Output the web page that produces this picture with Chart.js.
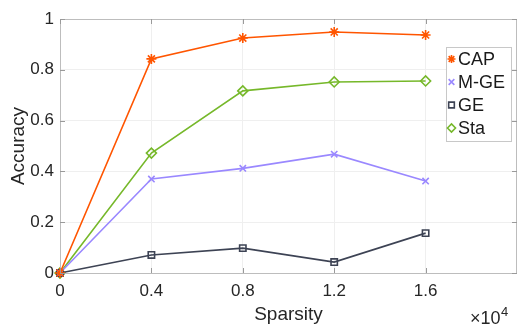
<!DOCTYPE html>
<html>
<head>
<meta charset="utf-8">
<script src="https://cdn.jsdelivr.net/npm/chart.js@4/dist/chart.umd.min.js"></script>
<style>
  html, body { margin: 0; padding: 0; background: #fff; }
  #wrap { width: 518px; height: 326px; position: relative; }
</style>
</head>
<body>
<div id="wrap"><canvas id="c" width="518" height="326"></canvas></div>
<script>
// Sparsity (in units of 1e4) and accuracy per method
const sparsity = [0, 0.4, 0.8, 1.2, 1.6];
const capAcc  = [0, 0.843, 0.925, 0.949, 0.937];
const mgeAcc  = [0, 0.370, 0.412, 0.468, 0.362];
const geAcc   = [0, 0.071, 0.098, 0.043, 0.157];
const staAcc  = [0, 0.472, 0.717, 0.752, 0.756];
const seriesNames = ['CAP', 'M-GE', 'GE', 'Sta'];
const xTicks = [0, 0.4, 0.8, 1.2, 1.6];
const yTicks = [0, 0.2, 0.4, 0.6, 0.8, 1];

const FONT = '"Liberation Sans", Arial, Helvetica, sans-serif';
const colors = ['#ff5500', '#9a88ff', '#3d4354', '#76b82a'];
const styles = ['star', 'crossRot', 'rect', 'rectRot'];
const radii = [5, 4.5, 4.5, 5];

const pts = ys => sparsity.map((x, i) => ({ x, y: ys[i] }));
const allY = [capAcc, mgeAcc, geAcc, staAcc];

const datasets = allY.map((ys, i) => ({
  label: seriesNames[i],
  data: pts(ys),
  borderColor: colors[i],
  backgroundColor: 'rgba(255,255,255,0)',
  pointBorderColor: colors[i],
  pointBackgroundColor: 'rgba(255,255,255,0)',
  pointStyle: styles[i],
  pointRadius: radii[i],
  pointBorderWidth: 1.6,
  borderWidth: 1.6,
  tension: 0,
  fill: false,
  clip: 8
}));

// Box, inward tick marks, exponent label, and an in-plot legend
const decor = {
  id: 'decor',
  afterDatasetsDraw(chart) {
    const { ctx, chartArea: a, scales } = chart;
    ctx.save();
    ctx.strokeStyle = '#bdbdbd';
    ctx.lineWidth = 1;
    ctx.strokeRect(a.left + 0.5, a.top + 0.5, a.right - a.left - 1, a.bottom - a.top);
    // inward ticks
    ctx.strokeStyle = '#9a9a9a';
    ctx.beginPath();
    xTicks.forEach(v => {
      const px = Math.round(scales.x.getPixelForValue(v)) + 0.5;
      ctx.moveTo(px, a.bottom); ctx.lineTo(px, a.bottom - 5);
      ctx.moveTo(px, a.top); ctx.lineTo(px, a.top + 5);
    });
    yTicks.forEach(v => {
      const py = Math.round(scales.y.getPixelForValue(v)) + 0.5;
      ctx.moveTo(a.left, py); ctx.lineTo(a.left + 5, py);
      ctx.moveTo(a.right, py); ctx.lineTo(a.right - 5, py);
    });
    ctx.stroke();

    // exponent label
    ctx.fillStyle = '#262626';
    ctx.textBaseline = 'alphabetic';
    ctx.textAlign = 'left';
    ctx.font = '18px ' + FONT;
    const base = '\u00d710';
    ctx.fillText(base, 470, 324);
    const bw = ctx.measureText(base).width;
    ctx.font = '13px ' + FONT;
    ctx.fillText('4', 470 + bw + 0.5, 316);

    // legend
    const lx = 446, ly = 47, lw = 65, lh = 94;
    ctx.fillStyle = '#ffffff';
    ctx.fillRect(lx, ly, lw, lh);
    ctx.strokeStyle = '#c8c8c8';
    ctx.strokeRect(lx + 0.5, ly + 0.5, lw, lh);
    ctx.font = '18px ' + FONT;
    ctx.textBaseline = 'middle';
    chart.data.datasets.forEach((ds, i) => {
      const cy = ly + 12 + i * 23;
      ctx.lineWidth = 1.6;
      ctx.strokeStyle = ds.borderColor;
      ctx.fillStyle = 'rgba(255,255,255,0)';
      Chart.helpers.drawPoint(ctx, {
        pointStyle: ds.pointStyle, radius: 4, borderWidth: 1.6, rotation: 0
      }, lx + 5.5, cy);
      ctx.fillStyle = '#1a1a1a';
      ctx.fillText(ds.label, lx + 12, cy + 1);
    });
    ctx.restore();
  }
};

new Chart(document.getElementById('c'), {
  type: 'line',
  data: { datasets },
  options: {
    responsive: false,
    animation: false,
    events: [],
    layout: { autoPadding: false, padding: { top: 19, right: 1, left: 0, bottom: 0 } },
    plugins: { legend: { display: false }, tooltip: { enabled: false } },
    scales: {
      x: {
        type: 'linear', min: 0, max: 2,
        afterBuildTicks: s => { s.ticks = xTicks.map(v => ({ value: v })); },
        afterFit: s => { s.height = 53; s.paddingLeft = 0; s.paddingRight = 0; },
        grid: { color: '#efefef', drawTicks: false, lineWidth: 1 },
        border: { display: false },
        ticks: {
          color: '#262626', padding: 8,
          font: { family: FONT, size: 17 },
          callback: v => String(+v.toFixed(1))
        },
        title: {
          display: true, text: 'Sparsity', color: '#262626',
          font: { family: FONT, size: 19 }, padding: { top: 0, bottom: 0 }
        }
      },
      y: {
        type: 'linear', min: 0, max: 1,
        afterBuildTicks: s => { s.ticks = yTicks.map(v => ({ value: v })); },
        afterFit: s => { s.width = 60; s.paddingTop = 0; s.paddingBottom = 0; },
        grid: { color: '#efefef', drawTicks: false, lineWidth: 1 },
        border: { display: false },
        ticks: {
          color: '#262626', padding: 6,
          font: { family: FONT, size: 17 },
          callback: v => String(+v.toFixed(1))
        },
        title: {
          display: true, text: 'Accuracy', color: '#262626',
          font: { family: FONT, size: 19 }, padding: { top: 7, bottom: 0 }
        }
      }
    }
  },
  plugins: [decor]
});
</script>
</body>
</html>
